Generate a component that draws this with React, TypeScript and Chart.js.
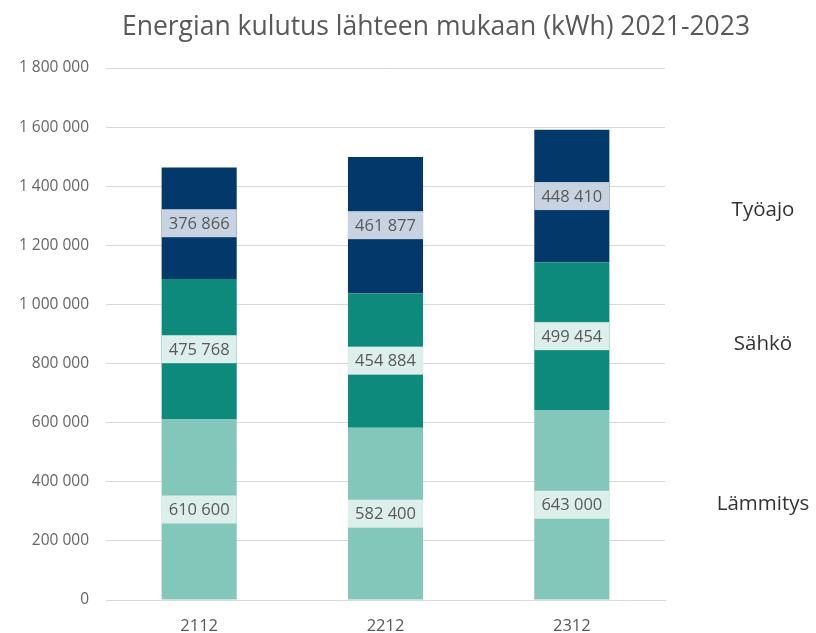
import React, { useEffect, useRef } from "react";
import { Chart, registerables } from "chart.js";

Chart.register(...registerables);

const TITLE = "Energian kulutus lähteen mukaan (kWh) 2021-2023";
const categories = ["2112", "2212", "2312"];
const seriesNames = ["Lämmitys", "Sähkö", "Työajo"];
const lammitys = [610600, 582400, 643000];
const sahko = [475768, 454884, 499454];
const tyoajo = [376866, 461877, 448410];
const barColors = ["#83c7bb", "#0e8a7c", "#03386b"];
const labelBg = ["#ddefeb", "#ddefeb", "#c8d3e2"];
const yMax = 1800000;
const yStep = 200000;

const FONT = "'Open Sans', sans-serif";

function fmt(v: number): string {
  return String(Math.round(v)).replace(/\B(?=(\d{3})+(?!\d))/g, " ");
}

const labelsPlugin = {
  id: "segLabels",
  afterDatasetsDraw(chart: any) {
    const ctx = chart.ctx;
    ctx.save();
    ctx.font = `16.5px ${FONT}`;
    ctx.textAlign = "center";
    ctx.textBaseline = "middle";
    chart.data.datasets.forEach((ds: any, di: number) => {
      const meta = chart.getDatasetMeta(di);
      meta.data.forEach((bar: any, i: number) => {
        const p = bar.getProps(["x", "y", "base", "width"], true);
        const cy = (p.y + p.base) / 2;
        const h = 28;
        ctx.fillStyle = labelBg[di];
        ctx.fillRect(p.x - p.width / 2, cy - h / 2, p.width, h);
        ctx.fillStyle = "#595959";
        ctx.fillText(fmt(ds.data[i]), p.x, cy + 1);
      });
    });
    // series names on right, at average segment center
    const yScale = chart.scales.y;
    const right = chart.chartArea.right;
    ctx.font = `20.5px ${FONT}`;
    ctx.fillStyle = "#333333";
    ctx.textAlign = "center";
    const all = [lammitys, sahko, tyoajo];
    seriesNames.forEach((name, si) => {
      let sum = 0;
      for (let i = 0; i < categories.length; i++) {
        let base = 0;
        for (let k = 0; k < si; k++) base += all[k][i];
        sum += base + all[si][i] / 2;
      }
      const avg = sum / categories.length;
      const y = yScale.getPixelForValue(avg) - 5;
      ctx.fillText(name, right + 98, y);
    });
    // title
    ctx.font = `26.5px ${FONT}`;
    ctx.fillStyle = "#595959";
    ctx.fillText(TITLE, 436, 27);
    ctx.restore();
  },
};

export default function App() {
  const ref = useRef<HTMLCanvasElement | null>(null);
  useEffect(() => {
    if (!ref.current) return;
    const chart = new Chart(ref.current, {
      type: "bar",
      data: {
        labels: categories,
        datasets: [lammitys, sahko, tyoajo].map((d, i) => ({
          label: seriesNames[i],
          data: d,
          backgroundColor: barColors[i],
          borderWidth: 0,
          categoryPercentage: 1,
          barPercentage: 0.403,
        })),
      },
      options: {
        responsive: false,
        animation: false,
        layout: { padding: { top: 68, right: 151, left: 0, bottom: 0 } },
        plugins: {
          legend: { display: false },
          title: { display: false },
          tooltip: { enabled: false },
        },
        scales: {
          x: {
            stacked: true,
            grid: { display: false, drawTicks: false },
            border: { display: true, color: "#d9d9d9" },
            afterFit(scale: any) {
              scale.height = 33;
            },
            ticks: { color: "#595959", font: { family: FONT, size: 16.5 }, padding: 16 },
          },
          y: {
            stacked: true,
            min: 0,
            max: yMax,
            afterFit(scale: any) {
              scale.width = 106;
            },
            grid: { color: "#d9d9d9", drawTicks: false },
            border: { display: false },
            ticks: {
              stepSize: yStep,
              color: "#666666",
              padding: 17,
              font: { family: FONT, size: 15.5 },
              callback: (v: any) => fmt(Number(v)),
            },
          },
        },
      },
      plugins: [labelsPlugin],
    });
    return () => chart.destroy();
  }, []);
  return (
    <div style={{ position: "absolute", left: 0, top: 0, width: 816, height: 633, background: "#fff" }}>
      <canvas ref={ref} width={816} height={633} />
    </div>
  );
}
